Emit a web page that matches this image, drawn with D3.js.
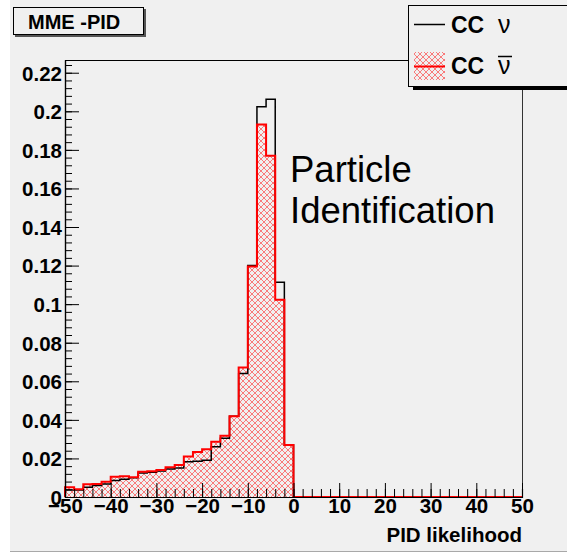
<!DOCTYPE html>
<html><head><meta charset="utf-8">
<script src="https://cdn.jsdelivr.net/npm/d3@7"></script>
<style>
html,body{margin:0;padding:0;background:#fff;}
svg text{font-family:"Liberation Sans",Arial,sans-serif;}
</style></head>
<body>
<svg id="c" width="567" height="553"></svg>
<script>
// ---- data ----
const binEdgesStart = [-50,-48,-46,-44,-42,-40,-38,-36,-34,-32,-30,-28,-26,-24,-22,-20,-18,-16,-14,-12,-10,-8,-6,-4,-2,
  0,2,4,6,8,10,12,14,16,18,20,22,24,26,28,30,32,34,36,38,40,42,44,46,48];
const binWidth = 2;
const ccNu = [0.0036,0.0036,0.0050,0.0060,0.0068,0.0085,0.0092,0.0100,0.0125,0.0128,0.0135,0.0145,0.0150,0.0183,0.0186,0.0190,0.0260,0.0304,0.0419,0.0640,0.1201,0.2024,0.2062,0.1114,0.0270,
  0,0,0,0,0,0,0,0,0,0,0,0,0,0,0,0,0,0,0,0,0,0,0,0,0];
const ccNuBar = [0.0050,0.0040,0.0066,0.0068,0.0079,0.0105,0.0107,0.0103,0.0131,0.0133,0.0140,0.0154,0.0166,0.0210,0.0233,0.0247,0.0286,0.0317,0.0419,0.0671,0.1195,0.1931,0.1770,0.1023,0.0269,
  0,0,0,0,0,0,0,0,0,0,0,0,0,0,0,0,0,0,0,0,0,0,0,0,0];
const xTickLabels = [-50,-40,-30,-20,-10,0,10,20,30,40,50];
const yTickLabels = ["0","0.02","0.04","0.06","0.08","0.1","0.12","0.14","0.16","0.18","0.2","0.22"];
const xDomain = [-50, 50];
const yDomain = [0, 0.2266];

// ---- layout ----
const svg = d3.select("#c");
const L = 65, R = 522, T = 60, B = 497;
const bg = "#f0f0f0";
const x = d3.scaleLinear().domain(xDomain).range([L, R]);
const y = d3.scaleLinear().domain(yDomain).range([B, T]);

svg.append("rect").attr("x",10).attr("y",0).attr("width",557).attr("height",551).attr("fill",bg);
svg.append("line").attr("x1",10).attr("x2",567).attr("y1",551.5).attr("y2",551.5).attr("stroke","#a8a8a8").attr("stroke-width",1);

// hatch pattern
const defs = svg.append("defs");
const pat = defs.append("pattern").attr("id","hatch").attr("patternUnits","userSpaceOnUse")
  .attr("width",6).attr("height",6);
pat.append("path").attr("d","M0,0L6,6M6,0L0,6").attr("stroke","#ff2a2a").attr("stroke-width",0.8).attr("stroke-opacity",0.75);

function stepPath(vals){
  let p = [[x(binEdgesStart[0]), y(0)]];
  vals.forEach((v,i)=>{
    p.push([x(binEdgesStart[i]), y(v)]);
    p.push([x(binEdgesStart[i]+binWidth), y(v)]);
  });
  p.push([x(binEdgesStart[binEdgesStart.length-1]+binWidth), y(0)]);
  return d3.line()(p);
}

// red hatched fill
svg.append("path").attr("d", stepPath(ccNuBar)+"Z").attr("fill","url(#hatch)").attr("stroke","none");
// black outline
svg.append("path").attr("d", stepPath(ccNu)).attr("fill","none").attr("stroke","#000").attr("stroke-width",1.5);
// red outline
svg.append("path").attr("d", stepPath(ccNuBar)).attr("fill","none").attr("stroke","#ff0000").attr("stroke-width",2);

// frame top / right
svg.append("line").attr("x1",L).attr("x2",R).attr("y1",T+0.5).attr("y2",T+0.5).attr("stroke","#000");
svg.append("line").attr("x1",R+0.5).attr("x2",R+0.5).attr("y1",T).attr("y2",B).attr("stroke","#333");

// axes
const fontSize = 20.5;
const yMinor = d3.axisLeft(y).tickValues(d3.range(0, 0.2266, 0.004)).tickSize(-7).tickFormat("");
svg.append("g").attr("transform",`translate(${L},0)`).call(yMinor);
const yAxis = d3.axisLeft(y).tickValues(yTickLabels.map(Number)).tickSizeInner(-14).tickSizeOuter(0).tickPadding(3)
  .tickFormat((d,i)=>yTickLabels[i]);
const gy = svg.append("g").attr("transform",`translate(${L},0)`).call(yAxis);

const xMinor = d3.axisBottom(x).tickValues(d3.range(-50, 51, 2)).tickSize(-8).tickFormat("");
svg.append("g").attr("transform",`translate(0,${B})`).call(xMinor);
const xAxis = d3.axisBottom(x).tickValues(xTickLabels).tickSizeInner(-14).tickSizeOuter(0).tickPadding(4);
const gx = svg.append("g").attr("transform",`translate(0,${B})`).call(xAxis);

svg.selectAll(".domain").attr("stroke","#000").attr("stroke-width",1.2);
svg.selectAll(".tick line").attr("stroke","#000");
[gx, gy].forEach(g=>g.selectAll("text").attr("font-size",fontSize).attr("font-weight","bold").attr("fill","#000")
  .attr("font-family","Liberation Sans, Arial, sans-serif"));
gx.selectAll("text").attr("dy","0.72em").attr("y",1);
gy.selectAll("text").attr("dy","0.36em");

// x title
svg.append("text").attr("x",R).attr("y",542).attr("text-anchor","end").attr("font-size",20.5).attr("font-weight","bold").text("PID likelihood");

// annotation
svg.append("text").attr("x",290).attr("y",182).attr("font-size",36.5).text("Particle");
svg.append("text").attr("x",290).attr("y",223).attr("font-size",36.5).text("Identification");

// title box
svg.append("rect").attr("x",15).attr("y",9).attr("width",131).attr("height",28).attr("fill","#555");
svg.append("rect").attr("x",13.5).attr("y",7.5).attr("width",130).attr("height",27).attr("fill",bg).attr("stroke","#000");
svg.append("text").attr("x",28).attr("y",28.5).attr("font-size",20).attr("font-weight","bold").text("MME -PID");

// legend box
svg.append("rect").attr("x",413).attr("y",86).attr("width",160).attr("height",4).attr("fill","#000");
svg.append("rect").attr("x",408.5).attr("y",5.5).attr("width",170).attr("height",81).attr("fill",bg).attr("stroke","#000");
svg.append("line").attr("x1",414).attr("x2",445).attr("y1",24.5).attr("y2",24.5).attr("stroke","#000").attr("stroke-width",1.5);
svg.append("text").attr("x",451).attr("y",33).attr("font-size",23).attr("font-weight","bold").text("CC");
svg.append("text").attr("x",498).attr("y",33).attr("font-size",25).text("ν");
svg.append("rect").attr("x",414).attr("y",52).attr("width",31).attr("height",28).attr("fill","url(#hatch)");
svg.append("line").attr("x1",414).attr("x2",445).attr("y1",66.5).attr("y2",66.5).attr("stroke","#ff0000").attr("stroke-width",2);
svg.append("text").attr("x",451).attr("y",74).attr("font-size",23).attr("font-weight","bold").text("CC");
svg.append("text").attr("x",498).attr("y",74).attr("font-size",25).text("ν");
svg.append("line").attr("x1",498).attr("x2",512).attr("y1",56.5).attr("y2",56.5).attr("stroke","#000").attr("stroke-width",1.5);
</script>
</body></html>
